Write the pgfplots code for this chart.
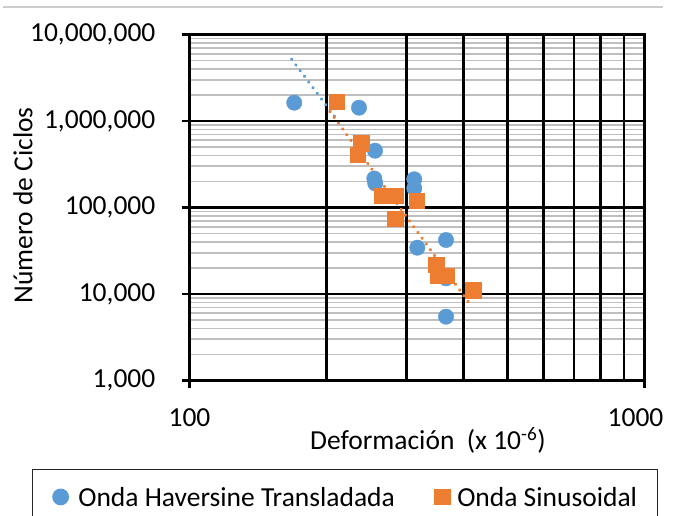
\documentclass[border=0pt]{standalone}
\usepackage{pgfplots}
\pgfplotsset{compat=1.18}
\usepackage{fontspec}
\setmainfont{Carlito}
\definecolor{cblue}{HTML}{5B9BD5}
\definecolor{corange}{HTML}{ED7D31}
\newcommand{\cf}{\fontsize{27.5}{33}\selectfont}
\begin{document}
\begin{tikzpicture}
\path[use as bounding box] (0,0) rectangle (673pt,516pt);
\draw[black!20, line width=2.2pt] (3pt,509pt) -- (663pt,509pt);
\begin{axis}[
  at={(189.5pt,135.5pt)}, anchor=south west,
  scale only axis, width=455pt, height=346pt,
  xmode=log, ymode=log,
  xmin=100, xmax=1000, ymin=1000, ymax=10000000,
  xtick={100,1000}, xticklabels={100,{\hspace*{-18pt}1000}},
  extra x ticks={200,300,400,500,600,700,800,900},
  extra x tick labels={},
  extra x tick style={grid=major, major tick length=0pt},
  ytick={1000,10000,100000,1000000,10000000},
  yticklabels={{1,000},{10,000},{100,000},{1,000,000},{10,000,000}},
  minor xtick={},
  minor ytick={2000,3000,4000,5000,6000,7000,8000,9000,
    20000,30000,40000,50000,60000,70000,80000,90000,
    200000,300000,400000,500000,600000,700000,800000,900000,
    2000000,3000000,4000000,5000000,6000000,7000000,8000000,9000000},
  grid=both,
  minor grid style={draw=black!25, line width=1.7pt},
  major grid style={draw=black, line width=2.2pt},
  axis line style={black, line width=2.2pt},
  tick style={black, line width=2.2pt},
  tick align=center, major tick length=16pt, minor tick length=0pt,
  tick pos=left,
  xticklabel style={font=\cf, anchor=north, inner sep=0pt, yshift=-19.5pt},
  yticklabel style={font=\cf, anchor=east, inner sep=0pt, xshift=-26pt},
  xlabel={Deformación\ \ (x 10\textsuperscript{-6})},
  xlabel style={at={(axis description cs:0.524,-0.172)}, anchor=center, font=\cf, inner sep=0pt},
  ylabel={Número de Ciclos},
  ylabel style={at={(axis description cs:-0.366,0.5058)}, anchor=center, font=\cf, inner sep=0pt},
  legend columns=2,
  legend style={at={(axis description cs:0.3418,-0.2558)}, anchor=north,
    draw=black!85, line width=1.4pt, inner xsep=20.5pt, inner ysep=17.7pt,
    font=\cf, nodes={inner sep=0pt, text depth=0pt},
    /tikz/column 1/.style={column sep=10pt},
    /tikz/column 2/.style={column sep=40pt},
    /tikz/column 3/.style={column sep=7pt}},
  legend image code/.code={\draw[#1] plot coordinates {(0pt,0pt)};},
]
\addplot[only marks, mark=*, mark size=7.7pt, color=cblue, mark options={draw=none, fill=cblue}] coordinates {
(169.9,1628000) (235.8,1425000) (255.7,453500) (254.8,216000) (256.0,190000)
(311.9,211800) (311.9,166700) (316.7,34300) (366.3,42100) (366.3,15190) (366.3,5465)
};
\addlegendentry{Onda Haversine Transladada}
\addplot[only marks, mark=square*, mark size=7.7pt, color=corange, mark options={draw=none, fill=corange}] coordinates {
(210.6,1671000) (238.2,553000) (234.3,405000) (264.5,136900) (284.3,136900)
(315.7,119200) (282.9,73650) (348.3,21640) (352.3,16150) (367.5,16150) (420.5,11120)
};
\addlegendentry{Onda Sinusoidal}
\addplot[forget plot, draw=cblue, line width=3.6pt, line cap=round, dash pattern=on 0.01pt off 7.1pt] coordinates {(167.7,5170000) (212,1000000)};
\addplot[forget plot, draw=corange, line width=3.6pt, line cap=round, dash pattern=on 0.01pt off 7.1pt] coordinates {(203.7,1281000) (411.3,7930)};
\end{axis}
\end{tikzpicture}
\end{document}
